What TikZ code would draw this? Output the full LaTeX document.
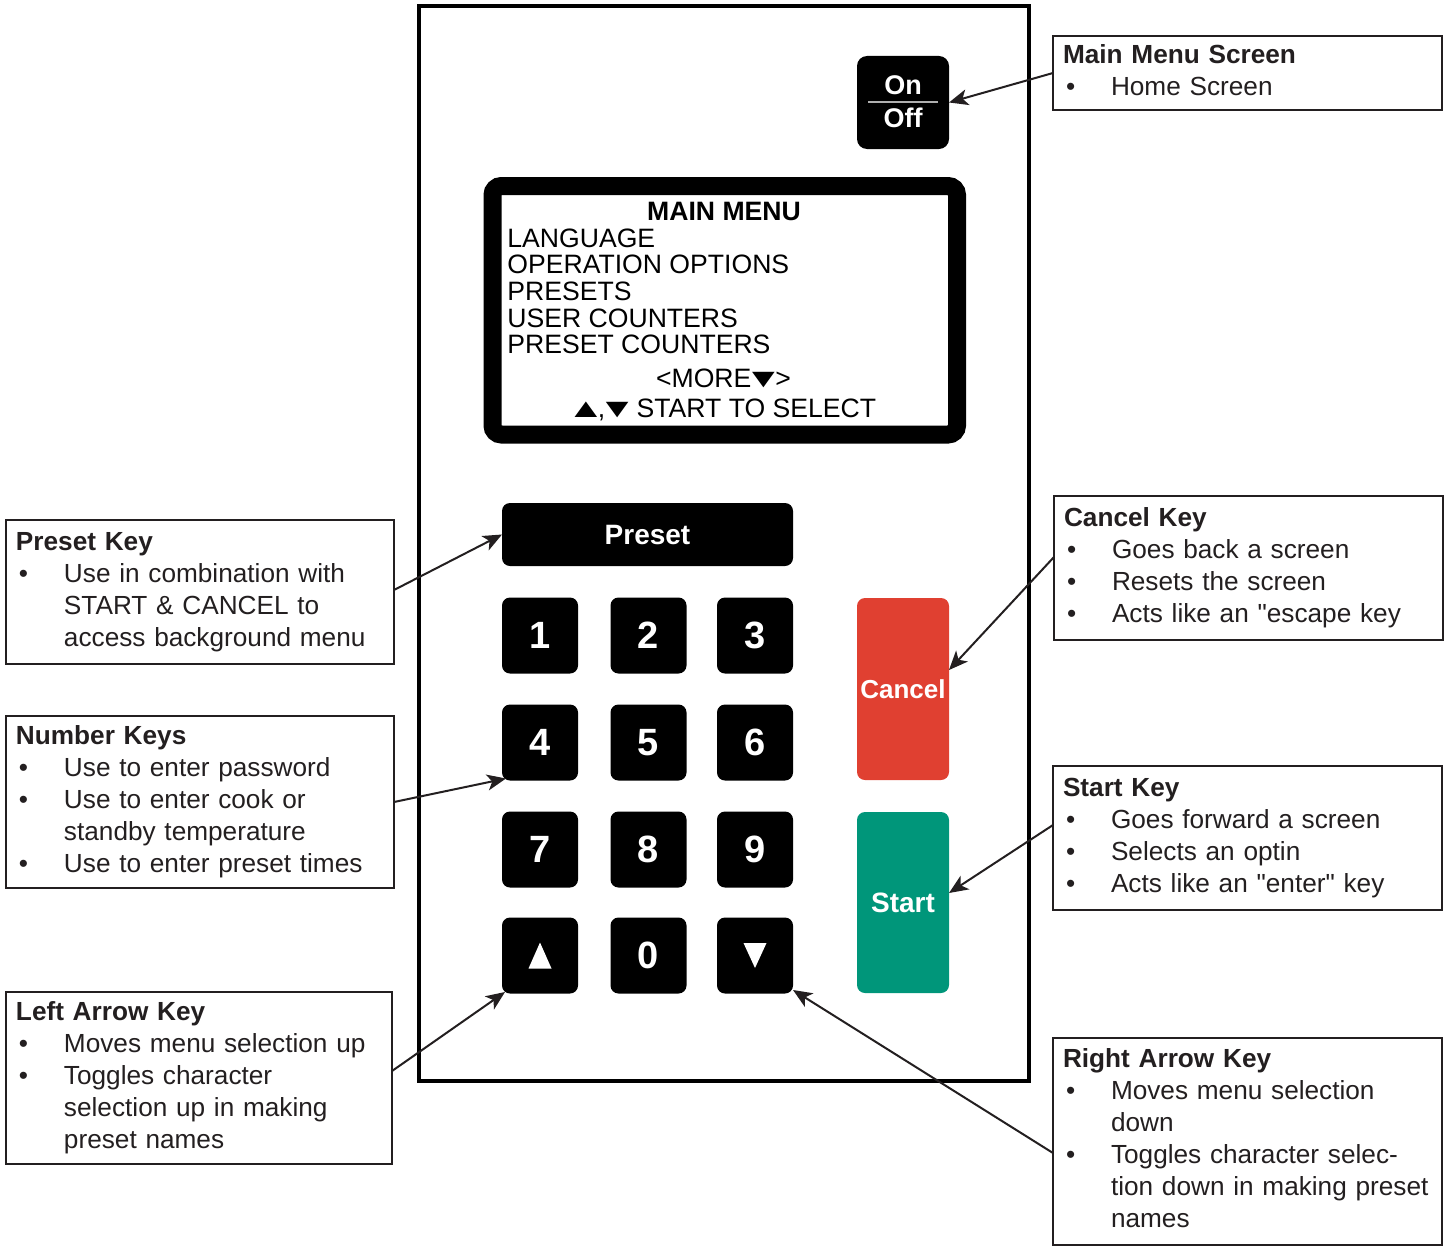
\documentclass[tikz,border=0pt]{standalone}
\usepackage{fontspec}
\setmainfont{Liberation Sans}[Ligatures=TeXOff]
\usetikzlibrary{arrows.meta}
\definecolor{ink}{HTML}{231F20}
\definecolor{cancelred}{RGB}{224,64,49}
\definecolor{startgreen}{RGB}{0,150,122}
\definecolor{sepgray}{RGB}{175,175,175}
\newcommand\cbul{\makebox[24pt][l]{\hspace{1.5pt}•}}
\newcommand\cind{\hspace*{24pt}}
\newcommand\cl[1]{\mbox{\strut#1}}
\newcommand\wtri[1]{\makebox[12pt][c]{\scalebox{1.45}[1]{#1}}}
\begin{document}
\begin{tikzpicture}[x=0.5pt,y=-0.5pt,
  calloutbox/.style={draw=ink, line width=1pt, outer sep=0pt, anchor=north west, inner xsep=5pt, inner ysep=0pt,
    align=left, font=\fontsize{13.1}{16}\selectfont, text=ink},
  keybox/.style={fill=black, rounded corners=4pt, inner sep=0pt, outer sep=0pt, text=white},
  digitkey/.style={keybox, minimum width=38pt, minimum height=38pt, font=\fontsize{19}{19}\selectfont\bfseries},
  scrtxt/.style={inner sep=0pt, text=black, font=\fontsize{13.3}{13.5}\selectfont},
  callarrow/.style={draw=ink, line width=1pt, -{Stealth[length=9.5pt,width=8pt,inset=2.5pt]}}
]
\useasboundingbox (0,0) rectangle (1444,1247);

% device outline
\node[draw=black, line width=2pt, outer sep=0pt, minimum width=305pt, minimum height=537.5pt, anchor=north west, inner sep=0pt] (device) at (419,6) {};

% On/Off key
\node[keybox, minimum width=46pt, minimum height=46.5pt, rounded corners=5pt] (onoff) at (903,102.5) {};
\draw[sepgray, line width=1pt] ([xshift=-17.5pt]onoff.center) -- ([xshift=17.5pt]onoff.center);
\node[inner sep=0pt, text=white, font=\fontsize{13.5}{13.5}\selectfont\bfseries, anchor=base] (ontxt) at (903,95) {On};
\node[inner sep=0pt, text=white, font=\fontsize{13.5}{13.5}\selectfont\bfseries, anchor=base] (offtxt) at (903,127) {Off};

% screen
\node[draw=black, line width=9pt, rounded corners=4.5pt, minimum width=232.25pt, minimum height=124.25pt, inner sep=0pt] (screen) at (724.75,310.25) {};
\node[scrtxt, font=\fontsize{13.3}{13.5}\selectfont\bfseries, anchor=base] (s0) at (724,220) {MAIN MENU};
\node[scrtxt, anchor=base west] (s1) at (507,247) {LANGUAGE};
\node[scrtxt, anchor=base west] (s2) at (507,273) {OPERATION OPTIONS};
\node[scrtxt, anchor=base west] (s3) at (507,300) {PRESETS};
\node[scrtxt, anchor=base west] (s4) at (507,327) {USER COUNTERS};
\node[scrtxt, anchor=base west] (s5) at (507,353) {PRESET COUNTERS};
\node[scrtxt, anchor=base] (s6) at (723.5,387) {<MORE\wtri{▼}>};
\node[scrtxt, anchor=base] (s7) at (725,417) {\wtri{▲},\wtri{▼} START TO SELECT};

% preset key
\node[keybox, minimum width=145.5pt, minimum height=31.5pt, font=\fontsize{14}{14}\selectfont\bfseries] (presetkey) at (647.5,534.5) {Preset};

% number keys
\node[digitkey] (k1) at (540,635.5) {1};
\node[digitkey] (k2) at (648.5,635.5) {2};
\node[digitkey] (k3) at (755,635.5) {3};
\node[digitkey] (k4) at (540,742.5) {4};
\node[digitkey] (k5) at (648.5,742.5) {5};
\node[digitkey] (k6) at (755,742.5) {6};
\node[digitkey] (k7) at (540,849.5) {7};
\node[digitkey] (k8) at (648.5,849.5) {8};
\node[digitkey] (k9) at (755,849.5) {9};
\node[digitkey] (kup) at (540,955.5) {};
\node[digitkey] (k0) at (648.5,955.5) {0};
\node[digitkey] (kdn) at (755,955.5) {};
\fill[white] (kup.center) ++(-11.5,13) -- ++(23,0) -- ++(-11.5,-26) -- cycle;
\fill[white] (kdn.center) ++(-11.5,-12.5) -- ++(23,0) -- ++(-11.5,25) -- cycle;

% cancel / start
\node[keybox, fill=cancelred, minimum width=46pt, minimum height=91pt, font=\fontsize{13}{13}\selectfont\bfseries] (cancelkey) at (903,689) {Cancel};
\node[keybox, fill=startgreen, minimum width=46pt, minimum height=90.5pt, font=\fontsize{14}{14}\selectfont\bfseries] (startkey) at (903,902.5) {Start};

% callouts
\node[calloutbox, text width=184.5pt, minimum height=37pt] (mmbox) at (1053,36) {%
\cl{\textbf{Main Menu Screen}}\\
\cl{\cbul Home Screen}};

\node[calloutbox, text width=184pt, minimum height=72pt] (pbox) at (6,520) {%
\cl{\textbf{Preset Key}}\\
\cl{\cbul Use in combination with}\\
\cl{\cind START \& CANCEL to}\\
\cl{\cind access background menu}};

\node[calloutbox, text width=184pt, minimum height=86pt] (nbox) at (6,716) {%
\cl{\textbf{Number Keys}}\\
\cl{\cbul Use to enter password}\\
\cl{\cbul Use to enter cook or}\\
\cl{\cind standby temperature}\\
\cl{\cbul Use to enter preset times}};

\node[calloutbox, text width=183pt, minimum height=86pt] (lbox) at (6,992) {%
\cl{\textbf{Left Arrow Key}}\\
\cl{\cbul Moves menu selection up}\\
\cl{\cbul Toggles character}\\
\cl{\cind selection up in making}\\
\cl{\cind preset names}};

\node[calloutbox, text width=184.5pt, minimum height=72pt] (cancelbox) at (1054,496) {%
\cl{\textbf{Cancel Key}}\\
\cl{\cbul Goes back a screen}\\
\cl{\cbul Resets the screen}\\
\cl{\cbul Acts like an "escape key}};

\node[calloutbox, text width=184.5pt, minimum height=72pt] (sbox) at (1053,766) {%
\cl{\textbf{Start Key}}\\
\cl{\cbul Goes forward a screen}\\
\cl{\cbul Selects an optin}\\
\cl{\cbul Acts like an "enter" key}};

\node[calloutbox, text width=184.5pt, minimum height=103.5pt] (rbox) at (1053,1038) {%
\cl{\textbf{Right Arrow Key}}\\
\cl{\cbul Moves menu selection}\\
\cl{\cind down}\\
\cl{\cbul Toggles character selec-}\\
\cl{\cind tion down in making preset}\\
\cl{\cind names}};

% connectors
\draw[callarrow] (mmbox.west) -- (onoff.east);
\draw[callarrow] ([yshift=1pt]pbox.east) -- (presetkey.west);
\draw[callarrow] (nbox.east) -- ([shift={(2pt,1pt)}]k4.south west);
\draw[callarrow] ([yshift=3.5pt]lbox.east) -- ([shift={(1.5pt,0.75pt)}]kup.south west);
\draw[callarrow] ([yshift=5.5pt]cancelbox.west) -- ([yshift=9.5pt]cancelkey.east);
\draw[callarrow] ([yshift=6.5pt]sbox.west) -- ([yshift=4.75pt]startkey.east);
\draw[callarrow] ([yshift=-5.75pt]rbox.west) -- ([yshift=1.75pt]kdn.south east);
\end{tikzpicture}
\end{document}
